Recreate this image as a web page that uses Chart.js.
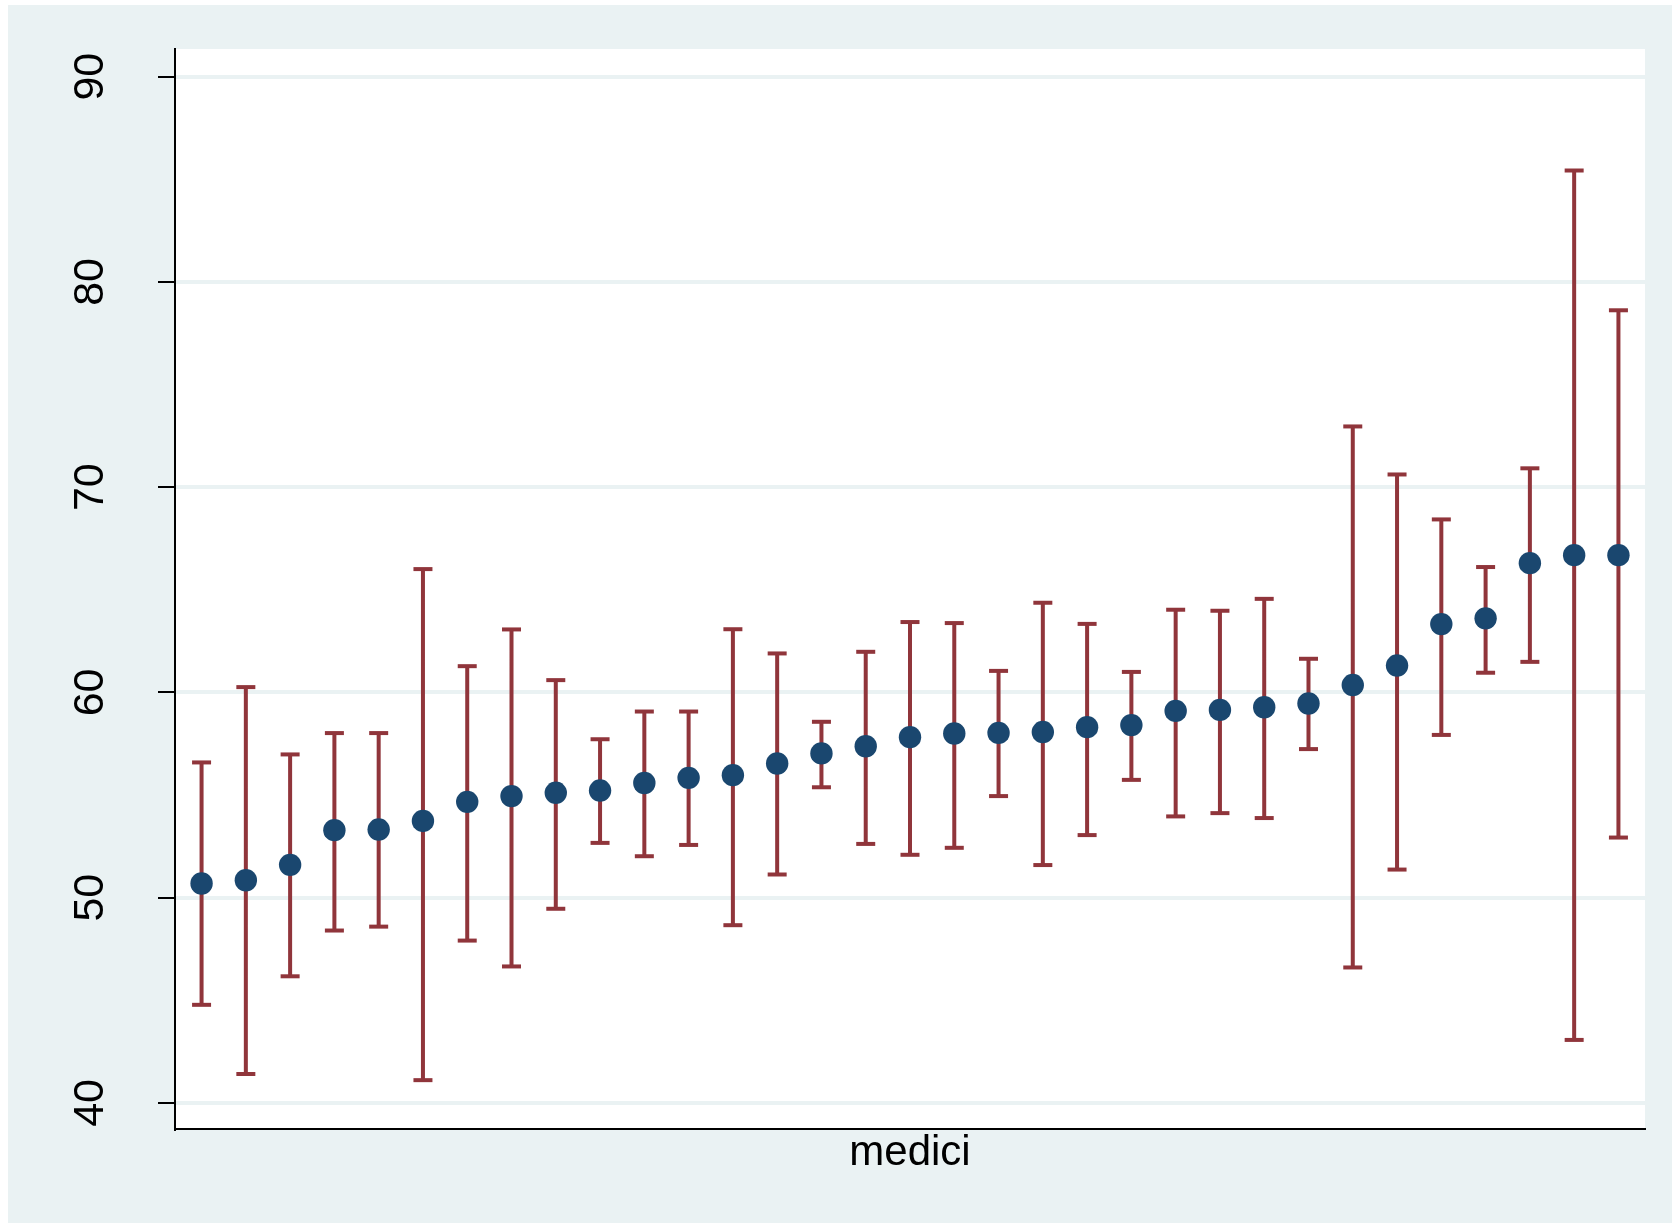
<!DOCTYPE html>
<html>
<head>
<meta charset="utf-8">
<script src="https://cdn.jsdelivr.net/npm/chart.js@4/dist/chart.umd.min.js"></script>
<style>
    html, body { margin: 0; padding: 0; background: #ffffff; }
    #frame {
        position: absolute;
        left: 8px;
        top: 5px;
        width: 1664px;
        height: 1218px;
        background: #eaf2f3;
    }
</style>
</head>
<body>
<div id="frame"><canvas id="chartMedici"></canvas></div>
<script>
// one point per doctor, sorted by mean
const medici = [1, 2, 3, 4, 5, 6, 7, 8, 9, 10, 11, 12, 13, 14, 15, 16, 17,
    18, 19, 20, 21, 22, 23, 24, 25, 26, 27, 28, 29, 30, 31, 32, 33];
const means = [50.69, 50.85, 51.60, 53.29, 53.32, 53.74, 54.67, 54.95, 55.11, 55.22, 55.59,
    55.84, 55.97, 56.54, 57.03, 57.38, 57.82, 58.00, 58.03, 58.07, 58.31, 58.41,
    59.10, 59.15, 59.28, 59.46, 60.36, 61.31, 63.33, 63.61, 66.30, 66.69, 66.69];
const upper = [56.59, 60.26, 56.98, 58.02, 58.02, 66.01, 61.28, 63.07, 60.60, 57.72, 59.07,
    59.07, 63.08, 61.90, 58.57, 61.98, 63.43, 63.38, 61.05, 64.37, 63.34, 61.00,
    64.03, 63.98, 64.56, 61.64, 72.96, 70.62, 68.43, 66.11, 70.92, 85.43, 78.62];
const lower = [44.78, 41.41, 46.17, 48.40, 48.59, 41.11, 47.91, 46.65, 49.46, 52.67, 52.02,
    52.57, 48.66, 51.13, 55.38, 52.62, 52.09, 52.43, 54.95, 51.59, 53.05, 55.74,
    53.96, 54.12, 53.88, 57.24, 46.60, 51.37, 57.93, 60.96, 61.49, 43.07, 52.93];
const yTicks = [40, 50, 60, 70, 80, 90];
const xTitle = "medici";

const navy = "#1a476f";
const maroon = "#90353b";
const bluishGray = "#eaf2f3";

// whiskers: one segment per doctor, broken by null points
const whiskers = [];
medici.forEach((m, i) => {
    whiskers.push({ x: m, y: lower[i] });
    whiskers.push({ x: m, y: upper[i] });
    whiskers.push({ x: m, y: null });
});

const whitePlot = {
    id: "whitePlot",
    beforeDraw(chart) {
        const { ctx, chartArea } = chart;
        ctx.save();
        ctx.fillStyle = "#ffffff";
        ctx.fillRect(chartArea.left, chartArea.top, chartArea.right - chartArea.left, chartArea.bottom - chartArea.top);
        ctx.restore();
    },
};

Chart.defaults.font.family = "'Liberation Sans', Arial, sans-serif";
Chart.defaults.color = "#000000";

new Chart(document.getElementById("chartMedici"), {
    type: "scatter",
    data: {
        datasets: [
            {
                label: "mean",
                data: medici.map((m, i) => ({ x: m, y: means[i] })),
                pointRadius: 11.2,
                pointBorderWidth: 0,
                backgroundColor: navy,
                borderColor: navy,
            },
            {
                label: "upper",
                data: medici.map((m, i) => ({ x: m, y: upper[i] })),
                pointStyle: "line",
                pointRadius: 9.5,
                pointBorderWidth: 4,
                borderColor: maroon,
            },
            {
                label: "lower",
                data: medici.map((m, i) => ({ x: m, y: lower[i] })),
                pointStyle: "line",
                pointRadius: 9.5,
                pointBorderWidth: 4,
                borderColor: maroon,
            },
            {
                label: "ci",
                data: whiskers,
                showLine: true,
                spanGaps: false,
                pointRadius: 0,
                borderWidth: 4,
                borderColor: maroon,
            },
        ],
    },
    options: {
        responsive: true,
        maintainAspectRatio: false,
        animation: false,
        events: [],
        layout: { padding: { left: 0, top: 44, right: 27, bottom: 0 } },
        plugins: {
            legend: { display: false },
            tooltip: { enabled: false },
        },
        scales: {
            x: {
                type: "linear",
                min: 0.4,
                max: 33.6,
                grid: { display: false },
                border: { display: true, color: "#000000", width: 2 },
                ticks: { display: false },
                title: {
                    display: true,
                    text: xTitle,
                    font: { size: 42 },
                    padding: { top: 0, bottom: 44 },
                },
                afterFit: (scale) => {
                    scale.height = 94;
                    scale.paddingLeft = 0;
                    scale.paddingRight = 0;
                },
            },
            y: {
                type: "linear",
                min: 38.73,
                max: 91.35,
                afterBuildTicks: (scale) => {
                    scale.ticks = yTicks.map((v) => ({ value: v }));
                },
                grid: {
                    color: bluishGray,
                    lineWidth: 4,
                    drawTicks: true,
                    tickLength: 17,
                    tickColor: "#000000",
                    tickWidth: 2,
                },
                border: { display: true, color: "#000000", width: 2 },
                ticks: {
                    font: { size: 43 },
                    minRotation: 90,
                    maxRotation: 90,
                    crossAlign: "center",
                    padding: 43,
                },
                afterFit: (scale) => {
                    scale.width = 167;
                    scale.paddingTop = 0;
                    scale.paddingBottom = 0;
                },
            },
        },
    },
    plugins: [whitePlot],
});
</script>
</body>
</html>
